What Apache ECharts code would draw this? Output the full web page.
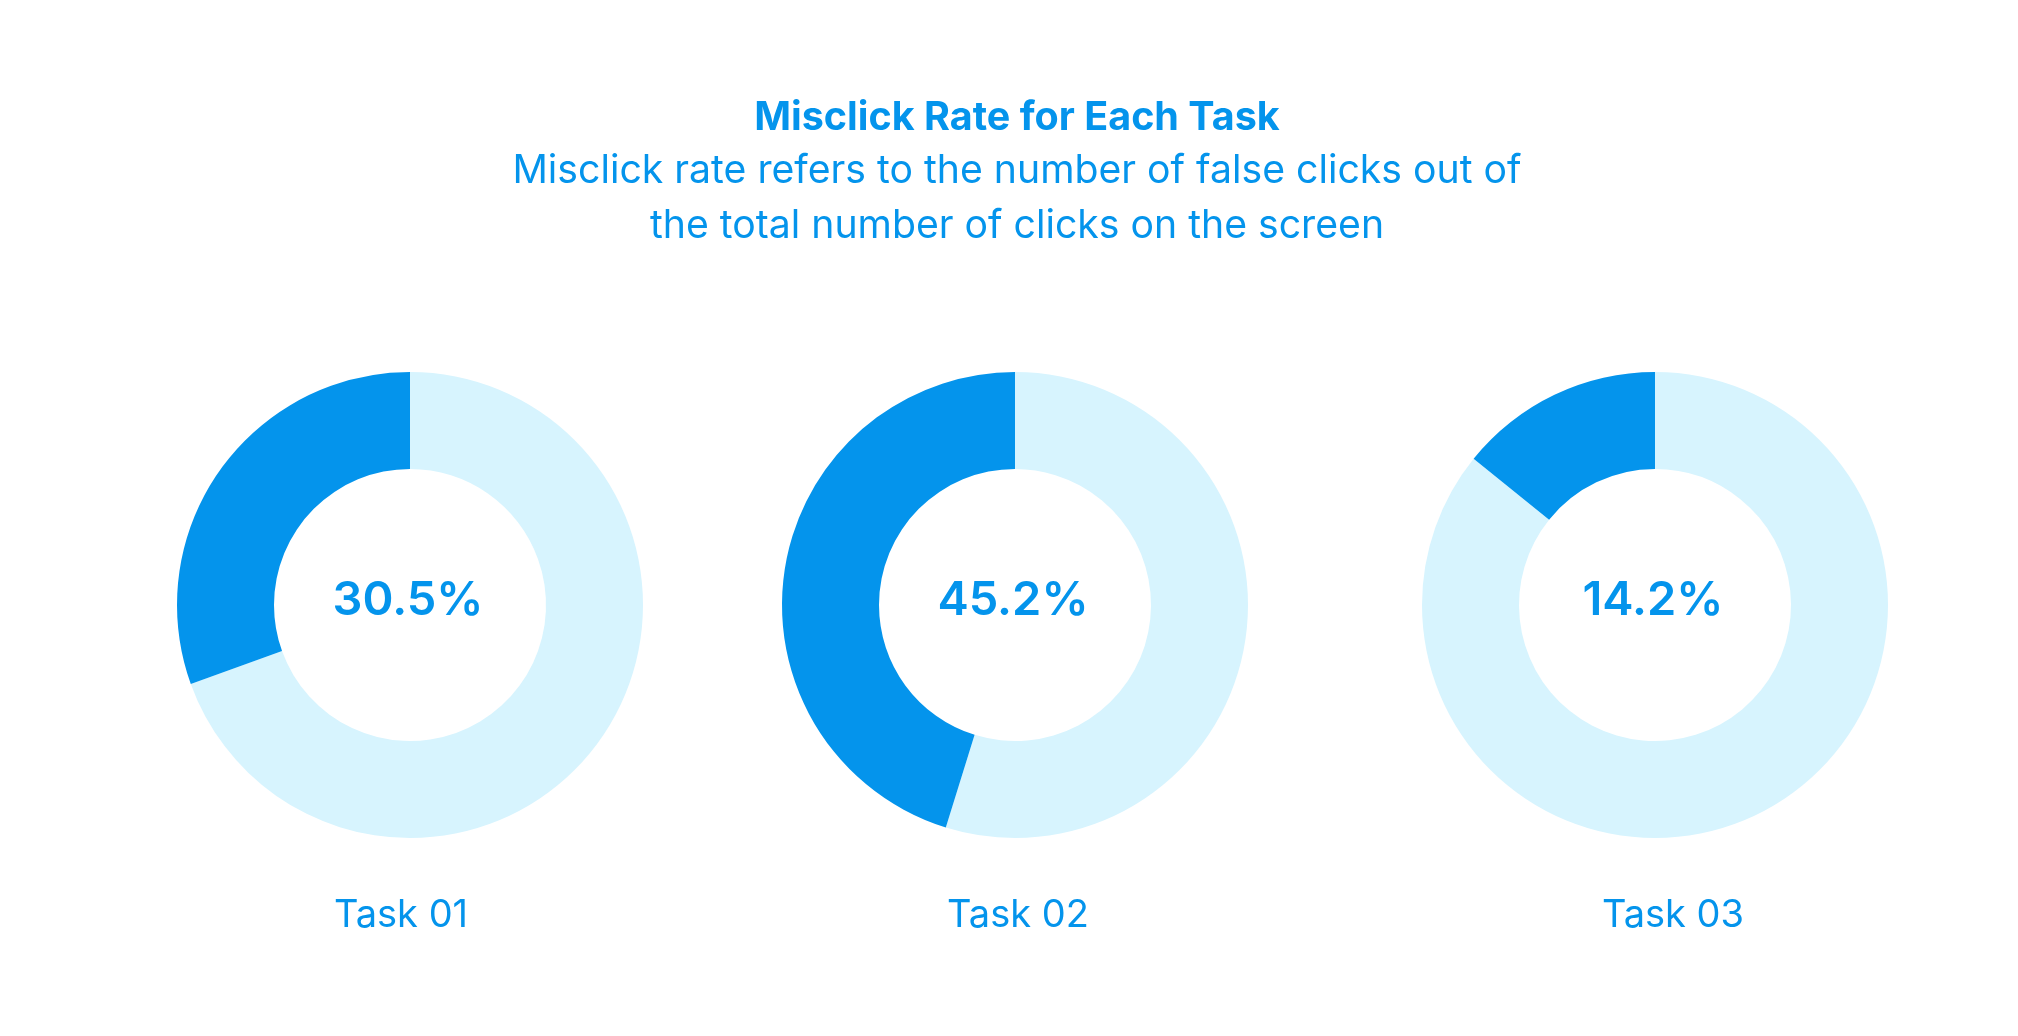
<!DOCTYPE html>
<html>
<head>
<meta charset="utf-8">
<script src="https://cdn.jsdelivr.net/npm/echarts@6/dist/echarts.min.js"></script>
<style>
html,body{margin:0;padding:0;background:#fff;}
#chart{width:2018px;height:1036px;}
</style>
</head>
<body>
<div id="chart"></div>
<script>
const categories = ['Task 01', 'Task 02', 'Task 03'];
const misclickRates = [30.5, 45.2, 14.2];
const titleText = 'Misclick Rate for Each Task';
const subtitleText = 'Misclick rate refers to the number of false clicks out of\nthe total number of clicks on the screen';

const DARK = '#0494EC';
const LIGHT = '#D7F4FE';
const FONT = 'Inter';

const centersX = [410, 1015, 1655];
const labelX = [401, 1018, 1673];

const chart = echarts.init(document.getElementById('chart'));

const titles = [{
  text: titleText,
  subtext: subtitleText,
  left: 1017,
  textAlign: 'center',
  top: 98,
  padding: 0,
  itemGap: 6,
  textStyle: { fontFamily: FONT, fontSize: 39.5, fontWeight: 700, color: DARK, lineHeight: 40 },
  subtextStyle: { fontFamily: FONT, fontSize: 39.2, fontWeight: 400, color: DARK, lineHeight: 55, align: 'center' }
}];
categories.forEach((c, i) => {
  titles.push({
    text: c,
    left: labelX[i],
    top: 896,
    padding: 0,
    textAlign: 'center',
    textStyle: { fontFamily: FONT, fontSize: 38, fontWeight: 400, color: DARK, lineHeight: 40 }
  });
});

const series = misclickRates.map((v, i) => ({
  type: 'pie',
  name: categories[i],
  center: [centersX[i], 605],
  radius: [136, 233],
  startAngle: 90,
  clockwise: true,
  silent: true,
  avoidLabelOverlap: false,
  labelLine: { show: false },
  itemStyle: { borderWidth: 0 },
  data: [
    { value: +(100 - v).toFixed(1), name: 'Other', itemStyle: { color: LIGHT }, label: { show: false } },
    { value: v, name: 'Misclick', itemStyle: { color: DARK },
      label: { show: true, position: 'center', formatter: '{c}%', fontFamily: FONT, fontSize: 47, fontWeight: 600, color: DARK, offset: [-2, -4] } }
  ]
}));

chart.setOption({
  backgroundColor: '#ffffff',
  animation: false,
  title: titles,
  series: series
});
</script>
</body>
</html>
